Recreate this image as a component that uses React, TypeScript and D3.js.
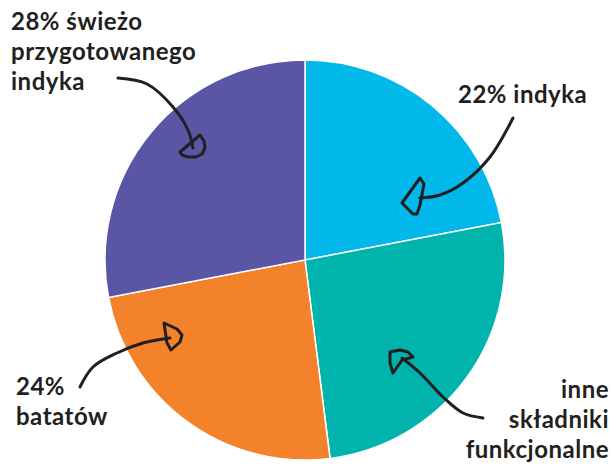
import React from 'react';
import * as d3 from 'd3';

// slices, clockwise from 12 o'clock
const categories = ['22% indyka', 'inne składniki funkcjonalne', '24% batatów', '28% świeżo przygotowanego indyka'];
const shares = [22, 26, 24, 28];
const colors = ['#00B8E9', '#00B3AD', '#F3822A', '#5A56A5'];

const labelLines = [
  ['22% indyka'],
  ['inne', 'składniki', 'funkcjonalne'],
  ['24%', 'batatów'],
  ['28% świeżo', 'przygotowanego', 'indyka'],
];

const W = 613;
const H = 464;
const cx = 305;
const cy = 260;
const R = 200;
const ink = '#231F20';

// hand drawn arrows: [line points], [head outline]
const arrows: [number, number][][][] = [
  [
    [[513, 118], [490, 157], [463, 183], [440, 195], [420, 198]],
    [[402, 203], [420, 178], [424, 184], [420, 205], [417, 214], [413, 214]],
  ],
  [
    [[483, 418], [463, 413], [443, 397], [420, 373], [402, 358]],
    [[390, 352], [400, 350], [408, 352], [413, 357], [402, 360], [393, 373], [390, 363]],
  ],
  [
    [[80, 387], [93, 367], [117, 353], [143, 343], [170, 338]],
    [[164, 323], [177, 329], [182, 335], [180, 342], [171, 350], [167, 343]],
  ],
  [
    [[118, 78], [147, 84], [173, 107], [188, 130], [193, 148]],
    [[180, 152], [200, 135], [204, 141], [205, 148], [202, 154], [196, 157], [188, 157], [182, 155]],
  ],
];

const labelPos = [
  { x: 458, y: 103, anchor: 'start' },
  { x: 609, y: 398, anchor: 'end' },
  { x: 16, y: 395, anchor: 'start' },
  { x: 11, y: 30, anchor: 'start' },
];

export default function App() {
  const pie = d3.pie<number>().sort(null).value((d) => d);
  const arcs = pie(shares);
  const arc = d3.arc<d3.PieArcDatum<number>>().innerRadius(0).outerRadius(R);
  const line = d3.line().curve(d3.curveCatmullRom.alpha(0.5));
  const head = d3.line().curve(d3.curveLinearClosed);

  return (
    <svg width={W} height={H} style={{ position: 'absolute', left: 0, top: 0, background: '#fff' }}>
      <g transform={`translate(${cx},${cy})`}>
        {arcs.map((a, i) => (
          <path key={categories[i]} d={arc(a) || ''} fill={colors[i]} stroke="#fff" strokeWidth={1.5} />
        ))}
      </g>
      {arrows.map(([pts, hd], i) => (
        <g key={i} fill="none" stroke={ink} strokeWidth={3} strokeLinecap="round" strokeLinejoin="round">
          <path d={line(pts) || ''} />
          <path d={head(hd) || ''} />
        </g>
      ))}
      {labelLines.map((lines, i) => (
        <text
          key={i}
          x={labelPos[i].x}
          y={labelPos[i].y}
          textAnchor={labelPos[i].anchor}
          fill={ink}
          fontFamily="Lato, sans-serif"
          fontWeight={700}
          fontSize={24}
          letterSpacing={0.5}
        >
          {lines.map((l, j) => (
            <tspan key={j} x={labelPos[i].x} dy={j === 0 ? 0 : 30}>
              {l}
            </tspan>
          ))}
        </text>
      ))}
    </svg>
  );
}
